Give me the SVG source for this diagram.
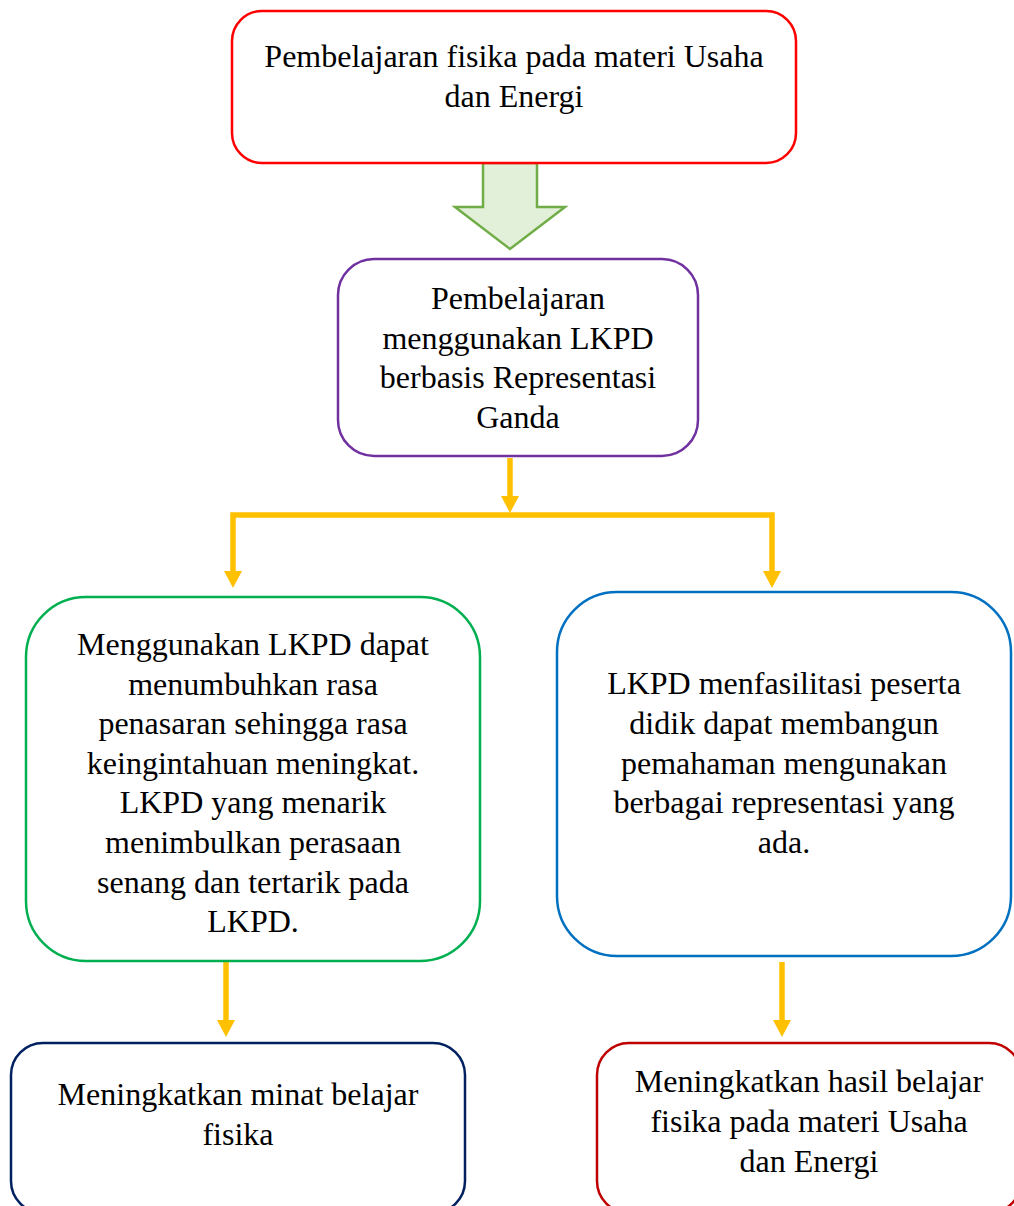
<svg xmlns="http://www.w3.org/2000/svg" width="1014" height="1206" viewBox="0 0 1014 1206">
<style>
  .box { fill: #FFFFFF; stroke-width: 2.5; }
  .t { font-family: "Liberation Serif", "Times New Roman", serif; font-size: 32px; fill: #000000; text-anchor: middle; }
  .conn { fill: none; stroke: #FFC000; stroke-width: 5.5; stroke-linejoin: miter; }
</style>
<defs>
  <marker id="ah" viewBox="0 0 17 18" refX="9" refY="9" markerWidth="17" markerHeight="18" markerUnits="userSpaceOnUse" orient="auto">
    <path d="M0,0 L17,9 L0,18 z" fill="#FFC000"/>
  </marker>
</defs>
<rect width="1014" height="1206" fill="#FFFFFF"/>

<g id="connectors">
  <polygon points="483,163 537,163 537,207 565,207 510,249 455,207 483,207" fill="#E2EFD9" stroke="#70AD47" stroke-width="2.5" stroke-linejoin="miter"/>
  <path class="conn" d="M510,458 V505" marker-end="url(#ah)"/>
  <path class="conn" d="M510,515 H233 V580" marker-end="url(#ah)"/>
  <path class="conn" d="M510,515 H772 V580" marker-end="url(#ah)"/>
  <path class="conn" d="M226,962 V1029" marker-end="url(#ah)"/>
  <path class="conn" d="M782,962 V1029" marker-end="url(#ah)"/>
</g>

<g id="node-top">
  <rect class="box" x="232" y="11" width="564" height="152" rx="30" stroke="#FF0000"/>
  <text class="t" x="514" y="67">Pembelajaran fisika pada materi Usaha</text>
  <text class="t" x="514" y="107">dan Energi</text>
</g>

<g id="node-lkpd">
  <rect class="box" x="338" y="259" width="360" height="197" rx="36" stroke="#7030A0"/>
  <text class="t" x="518" y="309">Pembelajaran</text>
  <text class="t" x="518" y="348.6">menggunakan LKPD</text>
  <text class="t" x="518" y="388.2">berbasis Representasi</text>
  <text class="t" x="518" y="427.8">Ganda</text>
</g>

<g id="node-green">
  <rect class="box" x="26" y="597" width="454" height="364" rx="60" stroke="#00B050"/>
  <text class="t" x="253" y="655">Menggunakan LKPD dapat</text>
  <text class="t" x="253" y="694.6">menumbuhkan rasa</text>
  <text class="t" x="253" y="734.2">penasaran sehingga rasa</text>
  <text class="t" x="253" y="773.8">keingintahuan meningkat.</text>
  <text class="t" x="253" y="813.4">LKPD yang menarik</text>
  <text class="t" x="253" y="853">menimbulkan perasaan</text>
  <text class="t" x="253" y="892.6">senang dan tertarik pada</text>
  <text class="t" x="253" y="932.2">LKPD.</text>
</g>

<g id="node-blue">
  <rect class="box" x="557" y="592" width="454" height="364" rx="60" stroke="#0070C0"/>
  <text class="t" x="784" y="694">LKPD menfasilitasi peserta</text>
  <text class="t" x="784" y="733.8">didik dapat membangun</text>
  <text class="t" x="784" y="773.6">pemahaman mengunakan</text>
  <text class="t" x="784" y="813.4">berbagai representasi yang</text>
  <text class="t" x="784" y="853.2">ada.</text>
</g>

<g id="node-minat">
  <rect class="box" x="11" y="1043" width="454" height="170" rx="32" stroke="#002060"/>
  <text class="t" x="238" y="1105">Meningkatkan minat belajar</text>
  <text class="t" x="238" y="1145">fisika</text>
</g>

<g id="node-hasil">
  <rect class="box" x="597" y="1043" width="424" height="170" rx="32" stroke="#C00000"/>
  <text class="t" x="809" y="1092">Meningkatkan hasil belajar</text>
  <text class="t" x="809" y="1132">fisika pada materi Usaha</text>
  <text class="t" x="809" y="1172">dan Energi</text>
</g>
</svg>
